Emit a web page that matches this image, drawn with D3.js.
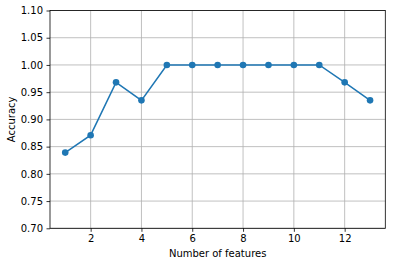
<!DOCTYPE html>
<html>
<head>
<meta charset="utf-8">
<script src="https://cdn.jsdelivr.net/npm/d3@7"></script>
<style>
  body { margin: 0; background: #fff; }
  svg text { font-family: "DejaVu Sans", sans-serif; font-size: 10px; fill: #000; }
</style>
</head>
<body>
<svg id="chart" width="395" height="266"></svg>
<script>
// feature counts and accuracy values
const numFeatures = [1, 2, 3, 4, 5, 6, 7, 8, 9, 10, 11, 12, 13];
const accuracy = [0.839, 0.871, 0.968, 0.935, 1.0, 1.0, 1.0, 1.0, 1.0, 1.0, 1.0, 0.968, 0.935];
const xTicks = [2, 4, 6, 8, 10, 12];
const yTicks = [0.70, 0.75, 0.80, 0.85, 0.90, 0.95, 1.00, 1.05, 1.10];

const data = numFeatures.map((k, i) => ({ k: k, acc: accuracy[i] }));

const svg = d3.select("#chart");
const plotL = 50, plotT = 10.5, plotR = 385.3, plotB = 228.3;

const x = d3.scaleLinear().domain([0.4, 13.6]).range([plotL, plotR]);
const y = d3.scaleLinear().domain([0.70, 1.10]).range([plotB, plotT]);

// grid
const grid = svg.append("g").attr("stroke", "#b0b0b0").attr("stroke-width", 0.8);
xTicks.forEach(t => {
  grid.append("line")
    .attr("x1", x(t)).attr("x2", x(t))
    .attr("y1", plotT).attr("y2", plotB);
});
yTicks.forEach(t => {
  grid.append("line")
    .attr("x1", plotL).attr("x2", plotR)
    .attr("y1", y(t)).attr("y2", y(t));
});

// axes
const xAxis = svg.append("g")
  .attr("transform", `translate(0,${plotB})`)
  .call(d3.axisBottom(x).tickValues(xTicks).tickSize(3.5).tickPadding(3.5).tickFormat(d3.format("d")));
const yAxis = svg.append("g")
  .attr("transform", `translate(${plotL},0)`)
  .call(d3.axisLeft(y).tickValues(yTicks).tickSize(3.5).tickPadding(3.5).tickFormat(d3.format(".2f")));

[xAxis, yAxis].forEach(g => {
  g.select(".domain").remove();
  g.selectAll("line").attr("stroke", "#000").attr("stroke-width", 0.8);
  g.selectAll("text").attr("font-family", null).attr("font-size", null);
});

// frame
svg.append("rect")
  .attr("x", plotL).attr("y", plotT)
  .attr("width", plotR - plotL).attr("height", plotB - plotT)
  .attr("fill", "none").attr("stroke", "#000").attr("stroke-width", 0.8);

// line + markers
const line = d3.line().x(d => x(d.k)).y(d => y(d.acc));
svg.append("path")
  .datum(data)
  .attr("d", line)
  .attr("fill", "none")
  .attr("stroke", "#1f77b4")
  .attr("stroke-width", 1.5);

svg.selectAll("circle.pt")
  .data(data)
  .enter().append("circle")
  .attr("class", "pt")
  .attr("cx", d => x(d.k))
  .attr("cy", d => y(d.acc))
  .attr("r", 3.3)
  .attr("fill", "#1f77b4");

// labels
svg.append("text")
  .attr("x", (plotL + plotR) / 2)
  .attr("y", 257)
  .attr("text-anchor", "middle")
  .text("Number of features");

svg.append("text")
  .attr("transform", `translate(15,${(plotT + plotB) / 2}) rotate(-90)`)
  .attr("text-anchor", "middle")
  .text("Accuracy");
</script>
</body>
</html>
